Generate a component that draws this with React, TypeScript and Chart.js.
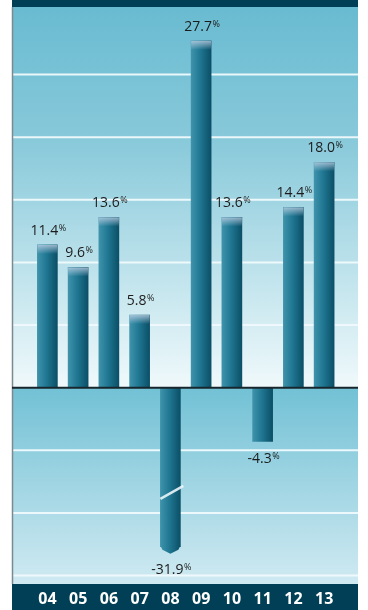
import React, { useEffect, useRef } from "react";
import { Chart, registerables } from "chart.js";

Chart.register(...registerables);

// ---- data ----
const years = ["04", "05", "06", "07", "08", "09", "10", "11", "12", "13"];
const growth = [11.4, 9.6, 13.6, 5.8, -31.9, 27.7, 13.6, -4.3, 14.4, 18.0];
const axisMin = -15.68;
const axisMax = 30.4;
const gridStep = 5;
// broken-axis: bars below this value are drawn truncated (with a break mark)
const brokenFloor = -12.7;

const shownValues = growth.map((v) => Math.max(v, brokenFloor));

const FONT = "'Open Sans', 'Noto Sans', sans-serif";
const PANEL_L = 12;
const PANEL_R = 358;

function barGradient(ctx: CanvasRenderingContext2D, cx: number, w: number) {
  if (!isFinite(cx) || !isFinite(w)) return "#1f7490";
  const g = ctx.createLinearGradient(cx - w / 2, 0, cx + w / 2, 0);
  g.addColorStop(0, "#3f93ab");
  g.addColorStop(0.45, "#207792");
  g.addColorStop(1, "#0b4f67");
  return g;
}

const backgroundPlugin = {
  id: "panelBackground",
  beforeDraw(chart: any) {
    const { ctx, chartArea } = chart;
    const ys = chart.scales.y;
    const top = chartArea.top;
    const bottom = chartArea.bottom;
    const zero = ys.getPixelForValue(0);
    if (!isFinite(zero)) return;
    ctx.save();
    let g = ctx.createLinearGradient(0, top, 0, zero);
    g.addColorStop(0, "#69bbd1");
    g.addColorStop(0.35, "#88c9da");
    g.addColorStop(0.7, "#bfe3ec");
    g.addColorStop(1, "#f0f9fb");
    ctx.fillStyle = g;
    ctx.fillRect(PANEL_L, top, PANEL_R - PANEL_L, zero - top);
    g = ctx.createLinearGradient(0, zero, 0, bottom);
    g.addColorStop(0, "#72c1d5");
    g.addColorStop(1, "#d0eaf2");
    ctx.fillStyle = g;
    ctx.fillRect(PANEL_L, zero, PANEL_R - PANEL_L, bottom - zero);

    // gridlines
    ctx.strokeStyle = "rgba(240,250,253,0.95)";
    ctx.lineWidth = 2;
    for (let v = Math.ceil(axisMin / gridStep) * gridStep; v <= axisMax; v += gridStep) {
      if (v === 0) continue;
      const py = ys.getPixelForValue(v);
      if (py < top + 8 || py > bottom - 4) continue;
      ctx.beginPath();
      ctx.moveTo(PANEL_L, py);
      ctx.lineTo(PANEL_R, py);
      ctx.stroke();
    }

    // dark bands
    ctx.fillStyle = "#003f55";
    ctx.fillRect(PANEL_L, 0, PANEL_R - PANEL_L, top);
    ctx.fillRect(PANEL_L, bottom, PANEL_R - PANEL_L, chart.height - bottom);

    // left border
    ctx.strokeStyle = "#7a8a90";
    ctx.lineWidth = 1.5;
    ctx.beginPath();
    ctx.moveTo(PANEL_L + 0.5, top);
    ctx.lineTo(PANEL_L + 0.5, bottom);
    ctx.stroke();
    ctx.restore();
  },
};

const overlayPlugin = {
  id: "barOverlay",
  afterDatasetsDraw(chart: any) {
    const { ctx } = chart;
    const ys = chart.scales.y;
    const zero = ys.getPixelForValue(0);
    const meta = chart.getDatasetMeta(0);
    ctx.save();

    meta.data.forEach((el: any, i: number) => {
      const v = growth[i];
      const x = el.x;
      const w = el.width;
      if (!isFinite(x) || !isFinite(el.y)) return;
      if (v >= 0) {
        const g = ctx.createLinearGradient(0, el.y, 0, el.y + 9);
        g.addColorStop(0, "rgba(200,212,232,0.75)");
        g.addColorStop(1, "rgba(200,212,232,0)");
        ctx.fillStyle = g;
        ctx.fillRect(x - w / 2, el.y, w, 9);
      }
      if (v < brokenFloor) {
        const yb = el.y;
        ctx.fillStyle = barGradient(ctx, x, w);
        ctx.beginPath();
        ctx.moveTo(x - w / 2, yb - 1);
        ctx.lineTo(x + w / 2, yb - 1);
        ctx.lineTo(x + w / 2 - 2, yb + 3);
        ctx.lineTo(x, yb + 7);
        ctx.lineTo(x - w / 2 + 2, yb + 3);
        ctx.closePath();
        ctx.fill();
        const by = ys.getPixelForValue(-8.4);
        ctx.strokeStyle = "rgba(235,245,250,0.9)";
        ctx.lineWidth = 2.5;
        ctx.beginPath();
        ctx.moveTo(x - w / 2, by + 6);
        ctx.lineTo(x + w / 2 + 3, by - 7);
        ctx.stroke();
      }
    });

    // zero line
    ctx.strokeStyle = "#17262d";
    ctx.lineWidth = 2;
    ctx.beginPath();
    ctx.moveTo(PANEL_L, zero);
    ctx.lineTo(PANEL_R, zero);
    ctx.stroke();

    // value labels
    meta.data.forEach((el: any, i: number) => {
      const v = growth[i];
      if (!isFinite(el.x) || !isFinite(el.y)) return;
      const num = v.toFixed(1);
      ctx.font = `14px ${FONT}`;
      const wn = ctx.measureText(num).width;
      ctx.font = `9px ${FONT}`;
      const wp = ctx.measureText("%").width;
      const total = wn + wp + 0.5;
      const x0 = el.x - total / 2 + 1;
      let base: number;
      if (v >= 0) base = el.y - 10;
      else base = el.y + (v < brokenFloor ? 27 : 21);
      ctx.fillStyle = "#1c1c1c";
      ctx.textAlign = "left";
      ctx.textBaseline = "alphabetic";
      ctx.font = `14px ${FONT}`;
      ctx.fillText(num, x0, base);
      ctx.font = `9px ${FONT}`;
      ctx.fillText("%", x0 + wn + 0.5, base - 4);
    });
    ctx.restore();
  },
};

export default function App() {
  const ref = useRef<HTMLCanvasElement | null>(null);

  useEffect(() => {
    if (!ref.current) return;
    const chart = new Chart(ref.current, {
      type: "bar",
      data: {
        labels: years,
        datasets: [
          {
            data: shownValues,
            barThickness: 20,
            borderWidth: 0,
            backgroundColor: (c: any) => {
              const ch = c.chart;
              const xs = ch.scales && ch.scales.x;
              if (!xs || c.dataIndex == null) return "#1f7490";
              const cx = xs.getPixelForValue(c.dataIndex);
              return barGradient(ch.ctx, cx, 20);
            },
          },
        ],
      },
      options: {
        responsive: false,
        animation: false,
        layout: { padding: { top: 7, left: 32, right: 28.5, bottom: -4 } },
        plugins: { legend: { display: false }, tooltip: { enabled: false } },
        scales: {
          x: {
            offset: true,
            grid: { display: false, drawTicks: false },
            border: { display: false },
            ticks: {
              color: "#ffffff",
              padding: 7,
              autoSkip: false,
              maxRotation: 0,
              font: { family: FONT, size: 16, weight: "bold", lineHeight: 1 },
            },
          },
          y: {
            display: false,
            min: axisMin,
            max: axisMax,
            ticks: { stepSize: gridStep },
          },
        },
      },
      plugins: [backgroundPlugin, overlayPlugin],
    });
    return () => chart.destroy();
  }, []);

  return (
    <div style={{ position: "absolute", left: 0, top: 0, width: 368, height: 610 }}>
      <canvas ref={ref} width={368} height={610} />
    </div>
  );
}
